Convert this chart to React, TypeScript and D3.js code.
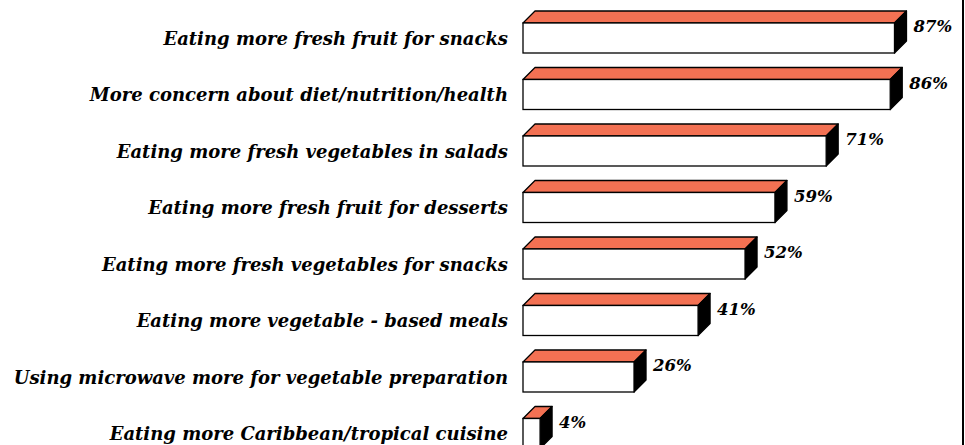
import React from "react";
import * as d3 from "d3";

const categories = [
  "Eating more fresh fruit for snacks",
  "More concern about diet/nutrition/health",
  "Eating more fresh vegetables in salads",
  "Eating more fresh fruit for desserts",
  "Eating more fresh vegetables for snacks",
  "Eating more vegetable - based meals",
  "Using microwave more for vegetable preparation",
  "Eating more Caribbean/tropical cuisine",
];
const values = [87, 86, 71, 59, 52, 41, 26, 4];

const W = 965;
const H = 445;
const DEPTH = 12;
const FONT = "'DejaVu Serif', serif";

export default function App() {
  const x = d3.scaleLinear().domain([0, 100]).range([523, 950]);
  const y = d3
    .scaleBand<string>()
    .domain(categories)
    .range([9.75, 9.75 + 8 * 56.5])
    .paddingInner(0.469)
    .paddingOuter(0.2345);
  const bw = y.bandwidth();
  const x0 = x(0);

  return (
    <svg
      width={W}
      height={H}
      style={{ position: "absolute", left: 0, top: 0, background: "#fff" }}
    >
      <rect x={0} y={0} width={W} height={H} fill="#fff" />
      {categories.map((c, i) => {
        const top = y(c)!;
        const r = x(values[i]);
        const topFace = `M${x0},${top} L${x0 + DEPTH},${top - DEPTH} L${r + DEPTH},${top - DEPTH} L${r},${top} Z`;
        const side = `M${r},${top} L${r + DEPTH},${top - DEPTH} L${r + DEPTH},${top + bw - DEPTH} L${r},${top + bw} Z`;
        return (
          <g key={c}>
            <path d={topFace} fill="#F37153" stroke="#000" strokeWidth={1.3} strokeLinejoin="round" />
            <path d={side} fill="#000" stroke="#000" strokeWidth={1.3} strokeLinejoin="round" />
            <rect x={x0} y={top} width={r - x0} height={bw} fill="#fff" stroke="#000" strokeWidth={1.3} />
            <text
              x={508}
              y={top + bw / 2 + 6.5}
              textAnchor="end"
              fontFamily={FONT}
              fontStyle="italic"
              fontWeight="bold"
              fontSize={18}
              fill="#000"
            >
              {c}
            </text>
            <text
              x={r + DEPTH + 7}
              y={top + 9.5}
              fontFamily={FONT}
              fontStyle="italic"
              fontWeight="bold"
              fontSize={16.5}
              fill="#000"
            >
              {values[i]}%
            </text>
          </g>
        );
      })}
      <line x1={963} y1={0} x2={963} y2={H} stroke="#000" strokeWidth={2} />
    </svg>
  );
}
